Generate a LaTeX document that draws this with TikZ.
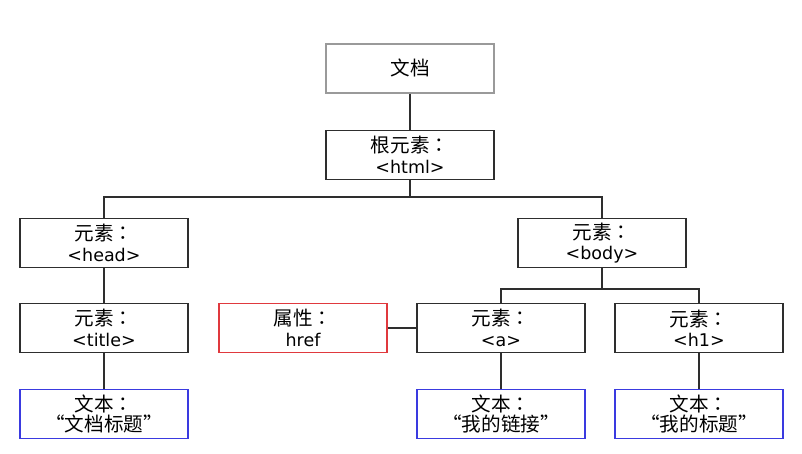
\documentclass[tikz,border=0pt]{standalone}
\usepackage{fontspec}
\setmainfont{DejaVu Sans}
\newfontfamily\cjk{Noto Sans CJK SC}[Scale=1.12]
\newfontfamily\cjktc{Noto Sans CJK TC}[Scale=1.12]
\usepackage{tikz}
\usetikzlibrary{positioning}

\definecolor{boxgray}{HTML}{9A9A9A}
\definecolor{attrred}{HTML}{E0393E}
\definecolor{textblue}{HTML}{3A3AE0}
\definecolor{linegray}{HTML}{2E2E2E}

% label with a centred full-width colon
\newcommand\tag[1]{{\cjk #1}{\cjktc ：}}

\tikzset{
  elem/.style={draw=linegray,line width=1.3pt,minimum width=168pt,minimum height=49pt,
    align=center,inner sep=0pt,font=\fontsize{17.5}{20.5}\selectfont},
  docbox/.style={elem,draw=boxgray,line width=2pt},
  attrbox/.style={elem,draw=attrred},
  textbox/.style={elem,draw=textblue},
  link/.style={draw=linegray,line width=1.2pt}
}

\begin{document}
\begin{tikzpicture}[x=1pt,y=-1pt]
  \useasboundingbox[fill=white] (0,0) rectangle (802,453);

  % top
  \node[docbox] (doc) at (410,68) {\cjk 文档};
  \node[elem] (root) at (410,155) {\tag{根元素}\\<html>};

  % second row
  \node[elem] (head) at (104,243) {\tag{元素}\\<head>};
  \node[elem] (body) at (602,243) {\tag{元素}\\<body>};

  % third row
  \node[elem] (title) at (104,328) {\tag{元素}\\<title>};
  \node[attrbox] (href) at (303,328) {\tag{属性}\\href};
  \node[elem] (ael) at (501,328) {\tag{元素}\\<a>};
  \node[elem] (hone) at (699,328) {\tag{元素}\\<h1>};

  % text nodes
  \node[textbox] (ttitle) at (104,414) {\tag{文本}\\{\cjk “文档标题”}};
  \node[textbox] (tlink) at (501,414) {\tag{文本}\\{\cjk “我的链接”}};
  \node[textbox] (thead) at (699,414) {\tag{文本}\\{\cjk “我的标题”}};

  \coordinate (jroot) at (410,197);
  \coordinate (jbody) at (602,289);

  \draw[link] (doc) -- (root);
  \draw[link] (root) -- (jroot);
  \draw[link] (jroot) -| (head);
  \draw[link] (jroot) -| (body);
  \draw[link] (head) -- (title);
  \draw[link] (title) -- (ttitle);
  \draw[link] (body) -- (jbody);
  \draw[link] (jbody) -| (ael);
  \draw[link] (jbody) -| (hone);
  \draw[link] (href) -- (ael);
  \draw[link] (ael) -- (tlink);
  \draw[link] (hone) -- (thead);
\end{tikzpicture}
\end{document}
